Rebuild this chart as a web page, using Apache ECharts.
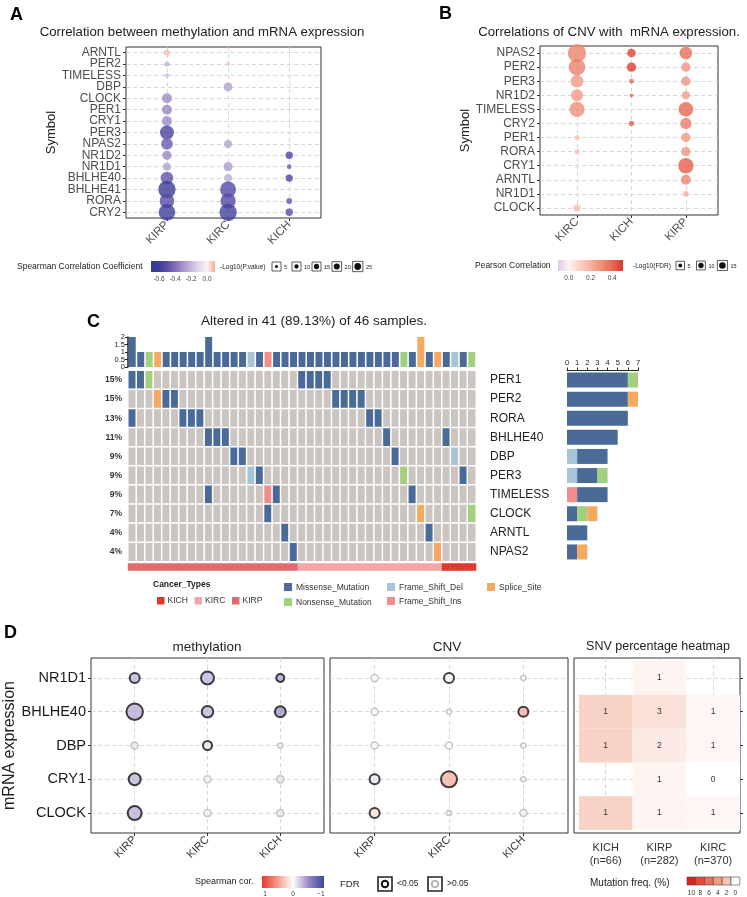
<!DOCTYPE html>
<html>
<head>
<meta charset="utf-8">
<script src="https://cdn.jsdelivr.net/npm/echarts@6.0.0/dist/echarts.min.js"></script>
<style>
  html, body { margin: 0; padding: 0; background: #fff; }
  #main { width: 747px; height: 897px; }
</style>
</head>
<body>
<div id="main"></div>
<script>
var FONT = 'Liberation Sans, Arial, Helvetica, sans-serif';

// ---------- A: methylation vs mRNA (Spearman) ----------
var aGenes = ['ARNTL','PER2','TIMELESS','DBP','CLOCK','PER1','CRY1','PER3','NPAS2','NR1D2','NR1D1','BHLHE40','BHLHE41','RORA','CRY2'];
var aCancers = ['KIRP','KIRC','KICH'];
// [gene, cancer, spearman r, -log10(p)]
var aCor = [
  ['ARNTL','KIRP',0.08,3.1], ['PER2','KIRP',-0.2,2.4], ['TIMELESS','KIRP',-0.18,1.6],
  ['CLOCK','KIRP',-0.32,8.6], ['PER1','KIRP',-0.33,8.6], ['CRY1','KIRP',-0.32,8.6],
  ['PER3','KIRP',-0.56,17], ['NPAS2','KIRP',-0.46,11.8], ['NR1D2','KIRP',-0.33,7.5],
  ['NR1D1','KIRP',-0.26,5.5], ['BHLHE40','KIRP',-0.48,13.9], ['BHLHE41','KIRP',-0.66,26],
  ['RORA','KIRP',-0.52,18.6], ['CRY2','KIRP',-0.6,24],
  ['PER2','KIRC',0.08,1.2], ['DBP','KIRC',-0.26,7], ['NPAS2','KIRC',-0.25,5.5],
  ['NR1D1','KIRC',-0.27,7.5], ['BHLHE40','KIRC',-0.22,5.5], ['BHLHE41','KIRC',-0.53,22],
  ['RORA','KIRC',-0.53,20], ['CRY2','KIRC',-0.58,26],
  ['NR1D2','KICH',-0.55,4.7], ['NR1D1','KICH',-0.45,1.9], ['BHLHE40','KICH',-0.55,4.7],
  ['RORA','KICH',-0.46,3.1], ['CRY2','KICH',-0.5,4.7]
];
var aSizeKeys = [5, 10, 15, 20, 25];
var aTicks = [-0.6, -0.4, -0.2, 0.0];

// ---------- B: CNV vs mRNA (Pearson) ----------
var bGenes = ['NPAS2','PER2','PER3','NR1D2','TIMELESS','CRY2','PER1','RORA','CRY1','ARNTL','NR1D1','CLOCK'];
var bCancers = ['KIRC','KICH','KIRP'];
// [gene, cancer, pearson r, -log10(FDR)]
var bCor = [
  ['NPAS2','KIRC',0.33,18], ['PER2','KIRC',0.33,15], ['PER3','KIRC',0.27,8.7],
  ['NR1D2','KIRC',0.27,7.8], ['TIMELESS','KIRC',0.3,12.7], ['PER1','KIRC',0.15,1.5],
  ['RORA','KIRC',0.15,1.5], ['CRY1','KIRC',-0.05,1.2], ['CLOCK','KIRC',0.16,2.9],
  ['NPAS2','KICH',0.48,4.1], ['PER2','KICH',0.5,4.7], ['PER3','KICH',0.4,1.2],
  ['NR1D2','KICH',0.4,0.75], ['CRY2','KICH',0.41,1.5],
  ['NPAS2','KIRP',0.38,8.7], ['PER2','KIRP',0.28,4.7], ['PER3','KIRP',0.28,4.7],
  ['NR1D2','KIRP',0.26,3.5], ['TIMELESS','KIRP',0.4,11.7], ['CRY2','KIRP',0.35,6.9],
  ['PER1','KIRP',0.28,4.7], ['RORA','KIRP',0.28,4.7], ['CRY1','KIRP',0.42,12.7],
  ['ARNTL','KIRP',0.32,5.4], ['NR1D1','KIRP',0.2,1.7]
];
var bSizeKeys = [5, 10, 15];
var bTicks = [0.0, 0.2, 0.4];

// ---------- C: oncoprint ----------
var oncoGenes = ['PER1','PER2','RORA','BHLHE40','DBP','PER3','TIMELESS','CLOCK','ARNTL','NPAS2'];
var oncoPct = ['15%','15%','13%','11%','9%','9%','9%','7%','4%','4%'];
var mutCodes = ['D','I','M','N','S'];
var mutNames = ['Frame_Shift_Del','Frame_Shift_Ins','Missense_Mutation','Nonsense_Mutation','Splice_Site'];
// per gene: [sample column, mutation code]
var oncoHits = [
  [[1,'M'],[2,'M'],[3,'N'],[21,'M'],[22,'M'],[23,'M'],[24,'M']],
  [[4,'S'],[5,'M'],[6,'M'],[25,'M'],[26,'M'],[27,'M'],[28,'M']],
  [[1,'M'],[7,'M'],[8,'M'],[9,'M'],[29,'M'],[30,'M']],
  [[10,'M'],[11,'M'],[12,'M'],[31,'M'],[38,'M']],
  [[13,'M'],[14,'M'],[32,'M'],[39,'D']],
  [[15,'D'],[16,'M'],[33,'N'],[40,'M']],
  [[10,'M'],[17,'I'],[18,'M'],[34,'M']],
  [[17,'M'],[35,'S'],[41,'N']],
  [[19,'M'],[36,'M']],
  [[20,'M'],[37,'S']]
];
var topCounts = [2,1,1,1,1,1,1,1,1,2, 1,1,1,1,1,1,1,1,1,1, 1,1,1,1,1,1,1,1,1,1, 1,1,1,1,2,1,1,1,1,1, 1];
var topTypes = ['M','M','N','S','M','M','M','M','M','M', 'M','M','M','M','D','M','I','M','M','M',
                'M','M','M','M','M','M','M','M','M','M', 'M','M','N','M','S','M','S','M','D','M', 'N'];
var topTicks = ['0','0.5','1','1.5','2'];
var cancerRuns = [['KIRP',20],['KIRC',17],['KICH',4]];
var cancerLegend = ['KICH','KIRC','KIRP'];

// ---------- D: methylation / CNV / SNV ----------
var dGenes = ['NR1D1','BHLHE40','DBP','CRY1','CLOCK'];
var dCancers = ['KIRP','KIRC','KICH'];
// [gene, cancer, spearman r, -log10(FDR)]
var methCor = [
  ['NR1D1','KIRP',-0.3,4], ['NR1D1','KIRC',-0.3,9], ['NR1D1','KICH',-0.38,1.8],
  ['BHLHE40','KIRP',-0.35,17.4], ['BHLHE40','KIRC',-0.3,6.3], ['BHLHE40','KICH',-0.45,5.4],
  ['DBP','KIRP',-0.1,1.0], ['DBP','KIRC',-0.12,2.8], ['DBP','KICH',-0.05,0.1],
  ['CRY1','KIRP',-0.3,7.1], ['CRY1','KIRC',-0.05,1.0], ['CRY1','KICH',-0.1,1.2],
  ['CLOCK','KIRP',-0.33,11.1], ['CLOCK','KIRC',-0.05,1.1], ['CLOCK','KICH',-0.1,1.1]
];
var cnvCor = [
  ['NR1D1','KIRP',0.02,1.0], ['NR1D1','KIRC',0.06,4], ['NR1D1','KICH',0.0,0.1],
  ['BHLHE40','KIRP',0.02,1.0], ['BHLHE40','KIRC',0.0,0.1], ['BHLHE40','KICH',0.4,4],
  ['DBP','KIRP',0.0,1.0], ['DBP','KIRC',0.0,1.0], ['DBP','KICH',0.0,0.1],
  ['CRY1','KIRP',-0.1,4], ['CRY1','KIRC',0.38,16], ['CRY1','KICH',0.0,0.1],
  ['CLOCK','KIRP',0.15,4], ['CLOCK','KIRC',0.0,0.1], ['CLOCK','KICH',-0.05,1.0]
];
var snvCancers = ['KICH','KIRP','KIRC'];
var snvN = [66, 282, 370];
var snvCounts = [[null,1,null],[1,3,1],[1,2,1],[null,1,0],[1,1,1]];
var freqTicks = [10, 8, 6, 4, 2, 0];
var corTicks = [1, 0, -1];

// ---------- colours ----------
var aColors = ['#36398f','#3f3e9b','#5a4ea8','#7f6db9','#a592cb','#c6b6de','#e2d9ee','#fbf4f4','#f7ad9a']; // -0.7..0.1
var bColors = ['#dccbe6','#fdf5f2','#fbd3c5','#f6b29e','#f08e79','#e86753','#dc3a2d'];               // -0.1..0.5
var dColors = ['#3c4a9b','#9b89c6','#ffffff','#f29b87','#e8392f'];                                  // -1..1
var snvColors = ['#ffffff','#f7c4b4','#f29a83','#ec7059','#e44a38','#d7261e'];                      // 0..10
var mutColor = {D:'#a7c5d8', I:'#f28d89', M:'#4a6b98', N:'#a3d07f', S:'#f5a961'};
var cancerColor = {KICH:'#dc3a2e', KIRC:'#f4a5a9', KIRP:'#df6b6f'};
var GREY = '#cbc4c1';

// ---------- data shaping ----------
function pos(list, name) { return list.indexOf(name) + 1; }
function seq(list) { return list.map(function (n, i) { return i + 1; }); }

var aData = aCor.map(function (p) { return [pos(aCancers, p[1]), pos(aGenes, p[0]), p[2], p[3]]; });
var bData = bCor.map(function (p) { return [pos(bCancers, p[1]), pos(bGenes, p[0]), p[2], p[3]]; });

var SIG = -Math.log10(0.05);
function dItems(rows) {
  return rows.map(function (p) {
    var sig = p[3] > SIG;
    return {
      value: [pos(dCancers, p[1]), pos(dGenes, p[0]), p[2], p[3]],
      itemStyle: { borderColor: sig ? '#111' : '#bdb6b8', borderWidth: sig ? 2 : 1.6 }
    };
  });
}

var sampleIds = topCounts.map(function (v, i) { return String(i + 1); });
var topData = topCounts.map(function (v, i) { return { value: v, itemStyle: { color: mutColor[topTypes[i]] } }; });

var oncoData = [];
oncoGenes.forEach(function (g, r) {
  var row = sampleIds.map(function () { return 0; });
  oncoHits[r].forEach(function (h) { row[h[0] - 1] = mutCodes.indexOf(h[1]) + 1; });
  row.forEach(function (code, c) { oncoData.push([c, r, code]); });
});

var stripData = [];
cancerRuns.forEach(function (run) {
  for (var i = 0; i < run[1]; i++) stripData.push([stripData.length, 0, cancerLegend.indexOf(run[0])]);
});

var snvData = [];
snvCounts.forEach(function (row, r) {
  row.forEach(function (cnt, c) {
    if (cnt === null) return;
    snvData.push([c + 1, r + 1, cnt / snvN[c] * 100, cnt]);
  });
});

// ---------- axis helpers ----------
var DASH = { show: true, lineStyle: { color: '#cdcdcd', type: [4, 3], width: 0.8 } };
function nameAxis(grid, names, min, max, label) {
  var ticks = seq(names);
  return {
    type: 'value', gridIndex: grid, min: min, max: max,
    axisLine: { show: false },
    axisTick: { show: true, length: 3, lineStyle: { color: '#333' }, customValues: ticks },
    axisLabel: Object.assign({
      customValues: ticks, showMinLabel: true, showMaxLabel: true,
      formatter: function (v) { return names[Math.round(v) - 1] || ''; },
      color: '#4d4d4d', fontSize: 12, fontFamily: FONT, margin: 5
    }, label || {}),
    splitLine: DASH
  };
}
function hiddenCat(grid, data, extra) {
  return Object.assign({
    type: 'category', gridIndex: grid, data: data,
    axisLine: { show: false }, axisTick: { show: false }, axisLabel: { show: false }, splitLine: { show: false }
  }, extra || {});
}
// category axis used only to print every row name (no overlap pruning)
function labelCat(grid, names, label, extra) {
  return Object.assign({
    type: 'category', gridIndex: grid, data: names, inverse: true, position: 'left',
    axisLine: { show: false }, splitLine: { show: false },
    axisTick: { show: true, length: 3, interval: 0, alignWithLabel: true, lineStyle: { color: '#333' } },
    axisLabel: Object.assign({ interval: 0, color: '#4d4d4d', fontSize: 12, fontFamily: FONT, margin: 5 }, label || {})
  }, extra || {});
}
var BOX = { show: true, borderColor: '#333', borderWidth: 1, containLabel: false };
var NAME_STYLE = { fontSize: 13, color: '#222', fontFamily: FONT };

var xAxes = [], yAxes = [];
// A
xAxes[0] = nameAxis(0, aCancers, 0.33, 3.52, { rotate: 45, fontSize: 11.5 });
yAxes[0] = Object.assign(nameAxis(0, aGenes, 0.5, 15.5, { show: false }), { inverse: true, position: 'left' });
yAxes[0].axisTick.show = false;
// B
xAxes[1] = nameAxis(1, bCancers, 0.32, 3.59, { rotate: 45, fontSize: 11.5 });
yAxes[1] = Object.assign(nameAxis(1, bGenes, 0.5, 12.5, { show: false }), { inverse: true, position: 'left' });
yAxes[1].axisTick.show = false;
// C top bars
xAxes[2] = hiddenCat(2, sampleIds);
yAxes[2] = { type: 'value', gridIndex: 2, min: 0, max: 2, show: false, position: 'right' };
// C oncoprint
xAxes[3] = hiddenCat(3, sampleIds);
yAxes[3] = hiddenCat(3, oncoGenes, { inverse: true, axisLabel: { show: true, fontSize: 8.5, fontWeight: 'bold', color: '#333', margin: 6, fontFamily: FONT, formatter: function (v, i) { return oncoPct[i]; } } });
// C cancer strip
xAxes[4] = hiddenCat(4, sampleIds);
yAxes[4] = hiddenCat(4, ['type']);
// C right bars
xAxes[5] = {
  type: 'value', gridIndex: 5, position: 'top', min: 0, max: 7, interval: 1,
  axisLine: { show: true, lineStyle: { color: '#222', width: 1 } },
  axisTick: { show: true, length: 3, inside: false, lineStyle: { color: '#222' } },
  axisLabel: { fontSize: 7.5, color: '#222', margin: 4, fontFamily: FONT, showMinLabel: true, showMaxLabel: true },
  splitLine: { show: false }
};
yAxes[5] = hiddenCat(5, oncoGenes, { inverse: true, axisLabel: { show: true, align: 'left', margin: 77, fontSize: 12, color: '#222', fontFamily: FONT } });
// D methylation
xAxes[6] = nameAxis(6, dCancers, 0.4, 3.6, { rotate: 45, fontSize: 11, color: '#333' });
yAxes[6] = Object.assign(nameAxis(6, dGenes, 0.41, 5.59, { fontSize: 14.5, color: '#1a1a1a' }), { inverse: true, name: 'mRNA expression', nameLocation: 'middle', nameGap: 64, nameTextStyle: { fontSize: 16, color: '#222', fontFamily: FONT } });
// D CNV
xAxes[7] = nameAxis(7, dCancers, 0.4, 3.6, { rotate: 45, fontSize: 11, color: '#333' });
yAxes[7] = Object.assign(nameAxis(7, dGenes, 0.41, 5.59, { show: false }), { inverse: true });
yAxes[7].axisTick.show = false;
// D SNV heatmap
xAxes[8] = nameAxis(8, snvCancers, 0.41, 3.5, {
  fontSize: 11, color: '#333', margin: 8, lineHeight: 13,
  formatter: function (v) { var i = Math.round(v) - 1; return snvCancers[i] + '\n(n=' + snvN[i] + ')'; }
});
xAxes[8].axisTick.show = false;
yAxes[8] = Object.assign(nameAxis(8, dGenes, 0.41, 5.59, { show: false }), { inverse: true, position: 'right' });
// label-only axes for A, B and the top-bar scale of C
yAxes[9] = labelCat(0, aGenes, {}, { name: 'Symbol', nameLocation: 'middle', nameGap: 67, nameTextStyle: NAME_STYLE });
yAxes[10] = labelCat(1, bGenes, {}, { name: 'Symbol', nameLocation: 'middle', nameGap: 68, nameTextStyle: NAME_STYLE });
yAxes[11] = labelCat(2, topTicks, { fontSize: 7.5, color: '#222', margin: 3 }, {
  inverse: false, boundaryGap: false,
  axisLine: { show: true, lineStyle: { color: '#222', width: 1.5 } },
  axisTick: { show: true, length: 3, interval: 0, lineStyle: { color: '#222' } }
});

// ---------- graphic helpers ----------
function txt(s, x, y, size, opt) {
  opt = opt || {};
  return { type: 'text', silent: true, z: 10, style: {
    text: s, x: x, y: y, fontSize: size, fontFamily: FONT, fontWeight: opt.bold ? 'bold' : 'normal',
    fill: opt.color || '#222', textAlign: opt.align || 'left', textVerticalAlign: 'middle' } };
}
function rect(x, y, w, h, fill, stroke, lw) {
  return { type: 'rect', silent: true, z: 10, shape: { x: x, y: y, width: w, height: h },
    style: { fill: fill, stroke: stroke || null, lineWidth: lw || 0 } };
}
function circ(cx, cy, r, fill, stroke, lw) {
  return { type: 'circle', silent: true, z: 11, shape: { cx: cx, cy: cy, r: r },
    style: { fill: fill, stroke: stroke || null, lineWidth: lw || 0 } };
}
function grad(colors) {
  return { type: 'linear', x: 0, y: 0, x2: 1, y2: 0,
    colorStops: colors.map(function (c, i) { return { offset: i / (colors.length - 1), color: c }; }) };
}

var g = [];
// panel letters and titles
g.push(txt('A', 10, 15, 18, { bold: true, color: '#000' }));
g.push(txt('B', 439, 14, 18, { bold: true, color: '#000' }));
g.push(txt('C', 87, 322, 18, { bold: true, color: '#000' }));
g.push(txt('D', 4, 633, 18, { bold: true, color: '#000' }));
g.push(txt('Correlation between methylation and mRNA expression', 202, 32, 13.2, { align: 'center' }));
g.push(txt('Correlations of CNV with  mRNA expression.', 609, 32, 13.2, { align: 'center' }));
g.push(txt('Altered in 41 (89.13%) of 46 samples.', 314, 321, 13.5, { align: 'center' }));
g.push(txt('methylation', 207, 647, 13.5, { align: 'center' }));
g.push(txt('CNV', 447, 647, 13.5, { align: 'center' }));
g.push(txt('SNV percentage heatmap', 658, 647, 12.5, { align: 'center' }));

// A legend
g.push(txt('Spearman Correlation Coefficient', 17, 267, 8.5));
g.push(rect(151, 261, 64, 11, grad(aColors)));
aTicks.forEach(function (v) {
  g.push(txt(v.toFixed(1), 151 + (v + 0.7) / 0.8 * 64, 279, 6.5, { align: 'center', color: '#444' }));
});
g.push(txt('-Log10(P.value)', 220, 267, 6.5));
var ax0 = 272;
aSizeKeys.forEach(function (v) {
  var d = 1.36 * Math.sqrt(v);
  var s = Math.max(9, d + 3.5);
  g.push(rect(ax0, 266.5 - s / 2, s, s, '#fff', '#333', 0.8));
  g.push(circ(ax0 + s / 2, 266.5, d / 2, '#111'));
  g.push(txt(String(v), ax0 + s + 3, 267, 5.5));
  ax0 += s + 11;
});

// B legend
g.push(txt('Pearson Correlation', 475, 266, 8.5));
g.push(rect(558, 260, 65, 11, grad(bColors)));
bTicks.forEach(function (v) {
  g.push(txt(v.toFixed(1), 558 + (v + 0.1) / 0.6 * 65, 278, 6.5, { align: 'center', color: '#444' }));
});
g.push(txt('-Log10(FDR)', 633, 266, 6.5));
var bx0 = 676;
bSizeKeys.forEach(function (v) {
  var d = 1.7 * Math.sqrt(v);
  var s = Math.max(8.5, d + 3.5);
  g.push(rect(bx0, 265.5 - s / 2, s, s, '#fff', '#333', 0.8));
  g.push(circ(bx0 + s / 2, 265.5, d / 2, '#111'));
  g.push(txt(String(v), bx0 + s + 3, 266, 5.5));
  bx0 += s + 12;
});

// C legend
g.push(txt('Cancer_Types', 153, 585, 8.5, { bold: true }));
cancerLegend.forEach(function (t, i) {
  var x = 157 + i * 37.5;
  g.push(rect(x, 597, 7.5, 7.5, cancerColor[t]));
  g.push(txt(t, x + 10.5, 601, 8.5, { color: '#333' }));
});
var mutLegendPos = { M: [284, 583], N: [284, 598], D: [387, 583], I: [387, 597], S: [487, 583] };
mutCodes.forEach(function (c, i) {
  var p = mutLegendPos[c];
  g.push(rect(p[0], p[1], 8, 8, mutColor[c]));
  g.push(txt(mutNames[i], p[0] + 12, p[1] + 4.5, 8.5, { color: '#333' }));
});

// D legend
g.push(txt('Spearman cor.', 195, 882, 9));
g.push(rect(262, 876, 62, 12, grad(dColors.slice().reverse())));
corTicks.forEach(function (v) {
  g.push(txt(v < 0 ? '\u2212' + Math.abs(v) : String(v), 265 + (1 - v) / 2 * 56, 894, 6.5, { align: 'center', color: '#333' }));
});
g.push(txt('FDR', 340, 884, 9.5));
g.push(rect(378, 877, 14, 14, '#fff', '#222', 1.6));
g.push(circ(385, 884, 3.2, '#fff', '#111', 2));
g.push(txt('<0.05', 397, 884, 8.5));
g.push(rect(428, 877, 14, 14, '#fff', '#222', 1.6));
g.push(circ(435, 884, 3.2, '#fff', '#bdb6b8', 2));
g.push(txt('>0.05', 447, 884, 8.5));
g.push(txt('Mutation freq. (%)', 590, 883, 10));
freqTicks.forEach(function (v, i) {
  var x = 687 + i * 8.8;
  g.push(rect(x, 877, 8.8, 8, snvColors[snvColors.length - 1 - i], '#444', 0.6));
  g.push(txt(String(v), x + 4.4, 893, 6.5, { align: 'center', color: '#333' }));
});

// ---------- option ----------
var option = {
  animation: false,
  backgroundColor: '#fff',
  textStyle: { fontFamily: FONT },
  grid: [
    Object.assign({ left: 126, top: 47, width: 195, height: 171 }, BOX),
    Object.assign({ left: 540, top: 46, width: 178, height: 169 }, BOX),
    { left: 128, top: 337, width: 348, height: 30, show: false },
    { left: 128, top: 370.5, width: 348, height: 191, show: false },
    { left: 128, top: 563.5, width: 348, height: 7, show: false },
    { left: 567, top: 370.5, width: 71, height: 191, show: false },
    Object.assign({ left: 91, top: 658, width: 233, height: 175 }, BOX),
    Object.assign({ left: 330, top: 658, width: 238, height: 175 }, BOX),
    Object.assign({ left: 574, top: 658, width: 166, height: 175 }, BOX)
  ],
  xAxis: xAxes,
  yAxis: yAxes,
  visualMap: [
    { type: 'continuous', show: false, seriesIndex: 0, dimension: 2, min: -0.7, max: 0.1, inRange: { color: aColors } },
    { type: 'continuous', show: false, seriesIndex: 1, dimension: 2, min: -0.1, max: 0.5, inRange: { color: bColors } },
    { type: 'piecewise', show: false, seriesIndex: 3, dimension: 2,
      pieces: [{ value: 0, color: GREY }].concat(mutCodes.map(function (c, i) { return { value: i + 1, color: mutColor[c] }; })) },
    { type: 'piecewise', show: false, seriesIndex: 4, dimension: 2,
      pieces: cancerLegend.map(function (t, i) { return { value: i, color: cancerColor[t] }; }) },
    { type: 'continuous', show: false, seriesIndex: [10, 11], dimension: 2, min: -1, max: 1, inRange: { color: dColors } },
    { type: 'continuous', show: false, seriesIndex: 12, dimension: 2, min: 0, max: 10, inRange: { color: snvColors } }
  ],
  series: [
    { type: 'scatter', xAxisIndex: 0, yAxisIndex: 0, data: aData, silent: true,
      symbolSize: function (d) { return 3.4 * Math.sqrt(d[3]); } },
    { type: 'scatter', xAxisIndex: 1, yAxisIndex: 1, data: bData, silent: true,
      symbolSize: function (d) { return 4.3 * Math.sqrt(d[3]); } },
    { type: 'bar', xAxisIndex: 2, yAxisIndex: 2, data: topData, barWidth: '82%', silent: true },
    { type: 'heatmap', xAxisIndex: 3, yAxisIndex: 3, data: oncoData, silent: true,
      itemStyle: { borderColor: '#fff', borderWidth: 1.5 } },
    { type: 'heatmap', xAxisIndex: 4, yAxisIndex: 4, data: stripData, silent: true }
  ].concat(mutCodes.map(function (code) {
    // right-hand bars, stacked by mutation type
    return { type: 'bar', xAxisIndex: 5, yAxisIndex: 5, stack: 'n', barWidth: 15, silent: true,
      itemStyle: { color: mutColor[code] },
      data: oncoHits.map(function (h) { return h.filter(function (x) { return x[1] === code; }).length; }) };
  })).concat([
    { type: 'scatter', xAxisIndex: 6, yAxisIndex: 6, data: dItems(methCor), silent: true,
      symbolSize: function (d) { return 4 + 3 * Math.sqrt(d[3]); } },
    { type: 'scatter', xAxisIndex: 7, yAxisIndex: 7, data: dItems(cnvCor), silent: true,
      symbolSize: function (d) { return 4 + 3 * Math.sqrt(d[3]); } },
    { type: 'custom', xAxisIndex: 8, yAxisIndex: 8, data: snvData, silent: true,
      encode: { x: 0, y: 1 },
      renderItem: function (params, api) {
        var c = api.coord([api.value(0), api.value(1)]);
        var s = api.size([1, 1]);
        var w = Math.abs(s[0]), h = Math.abs(s[1]);
        return { type: 'group', children: [
          { type: 'rect', shape: { x: c[0] - w / 2, y: c[1] - h / 2, width: w, height: h }, style: { fill: api.visual('color') } },
          { type: 'text', style: { text: String(api.value(3)), x: c[0], y: c[1], textAlign: 'center', textVerticalAlign: 'middle',
            fontSize: 8.5, fill: '#333', fontFamily: FONT } }
        ] };
      } }
  ]),
  graphic: g
};

var chart = echarts.init(document.getElementById('main'));
chart.setOption(option);
</script>
</body>
</html>
